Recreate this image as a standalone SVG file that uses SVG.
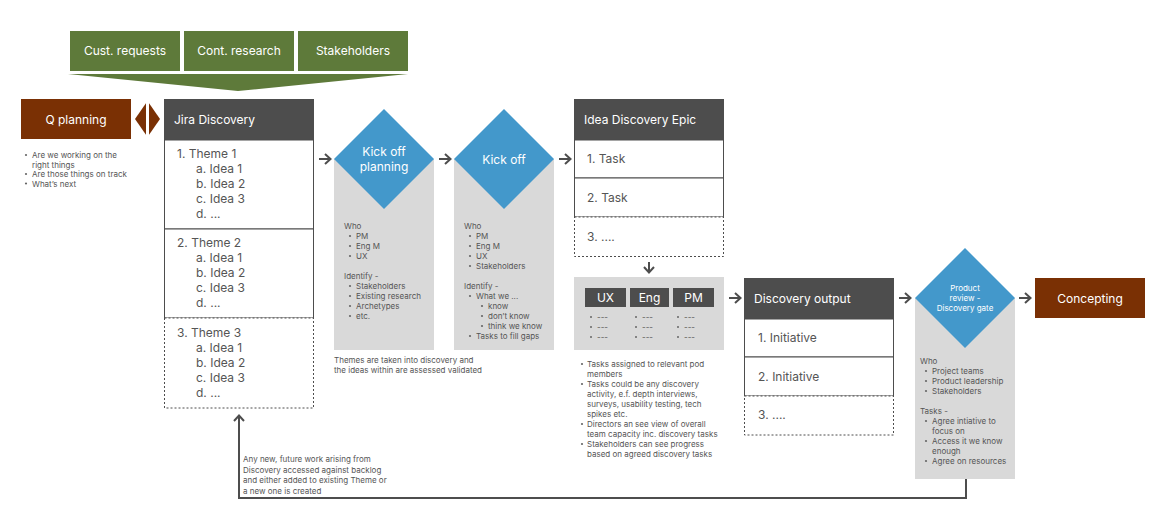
<svg xmlns="http://www.w3.org/2000/svg" width="1170" height="526" viewBox="0 0 1170 526">
<defs>
<style>
text{font-family:Inter,"Noto Sans","Liberation Sans",sans-serif}
.lbl{font-size:12px;fill:#fff}
.body{font-size:12px;fill:#555}
.sm{font-size:8px;fill:#555}
.smw{font-size:8px;fill:#fff}
.green{fill:#5e7a3a}
.brown{fill:#7a3004}
.dark{fill:#4d4d4d}
.blue{fill:#4398cb}
.panel{fill:#d9d9d9}
.box{fill:#fff;stroke:#4d4d4d;stroke-width:1}
.dot{fill:#fff;stroke:#4d4d4d;stroke-width:1;stroke-dasharray:2 2}
.conn{stroke:#4d4d4d;stroke-width:2;fill:none}
.bul{fill:#666}
</style>
<marker id="arr" markerUnits="userSpaceOnUse" markerWidth="12" markerHeight="14" refX="7" refY="6" orient="auto">
<path d="M1,1 L6.5,6 L1,11" fill="none" stroke="#4d4d4d" stroke-width="2"/>
</marker>
</defs>
<rect width="1170" height="526" fill="#fff"/>

<g id="inputs">
<rect class="green" x="70" y="31" width="110" height="40"/>
<text class="lbl" x="125" y="55" text-anchor="middle">Cust. requests</text>
<rect class="green" x="184" y="31" width="110" height="40"/>
<text class="lbl" x="239" y="55" text-anchor="middle">Cont. research</text>
<rect class="green" x="298" y="31" width="110" height="40"/>
<text class="lbl" x="353" y="55" text-anchor="middle">Stakeholders</text>
<polygon class="green" points="68,74 408,74 238,91"/>
</g>

<g id="q-planning">
<rect class="brown" x="21" y="99" width="110" height="40"/>
<text class="lbl" x="76" y="124" text-anchor="middle">Q planning</text>
<circle class="bul" cx="26" cy="155" r="1.1"/>
<text class="sm" x="32" y="158">Are we working on the</text>
<text class="sm" x="32" y="167.5">right things</text>
<circle class="bul" cx="26" cy="174" r="1.1"/>
<text class="sm" x="32" y="177">Are those things on track</text>
<circle class="bul" cx="26" cy="183.5" r="1.1"/>
<text class="sm" x="32" y="186.5">What’s next</text>
</g>

<g id="sync">
<polygon class="brown" points="135,119 147.5,101 160,119 147.5,137"/>
<line x1="147.5" y1="100" x2="147.5" y2="138" stroke="#fff" stroke-width="3"/>
</g>

<g id="jira-discovery">
<rect class="dark" x="164" y="99" width="150" height="41"/>
<text class="lbl" x="174" y="124">Jira Discovery</text>
<rect class="box" x="164.5" y="140" width="149" height="89"/>
<text class="body" x="177" y="158">1. Theme 1</text>
<text class="body" x="196" y="173">a. Idea 1</text>
<text class="body" x="196" y="188">b. Idea 2</text>
<text class="body" x="196" y="203">c. Idea 3</text>
<text class="body" x="196" y="218">d. ...</text>
<rect class="box" x="164.5" y="229" width="149" height="89"/>
<text class="body" x="177" y="247">2. Theme 2</text>
<text class="body" x="196" y="262">a. Idea 1</text>
<text class="body" x="196" y="277">b. Idea 2</text>
<text class="body" x="196" y="292">c. Idea 3</text>
<text class="body" x="196" y="307">d. ...</text>
<rect class="dot" x="164.5" y="318" width="149" height="90"/>
<text class="body" x="177" y="337">3. Theme 3</text>
<text class="body" x="196" y="352">a. Idea 1</text>
<text class="body" x="196" y="367">b. Idea 2</text>
<text class="body" x="196" y="382">c. Idea 3</text>
<text class="body" x="196" y="397">d. ...</text>
</g>

<g id="kickoff-planning">
<rect class="panel" x="334" y="159" width="100" height="191"/>
<polygon class="blue" points="334,159 384,109 434,159 384,209"/>
<text class="lbl" x="384" y="156" text-anchor="middle">Kick off</text>
<text class="lbl" x="384" y="171" text-anchor="middle">planning</text>
<text class="sm" x="344" y="229">Who</text>
<circle class="bul" cx="350" cy="236" r="1.1"/><text class="sm" x="356" y="239">PM</text>
<circle class="bul" cx="350" cy="246" r="1.1"/><text class="sm" x="356" y="249">Eng M</text>
<circle class="bul" cx="350" cy="256" r="1.1"/><text class="sm" x="356" y="259">UX</text>
<text class="sm" x="344" y="279">Identify -</text>
<circle class="bul" cx="350" cy="286" r="1.1"/><text class="sm" x="356" y="289">Stakeholders</text>
<circle class="bul" cx="350" cy="296" r="1.1"/><text class="sm" x="356" y="299">Existing research</text>
<circle class="bul" cx="350" cy="306" r="1.1"/><text class="sm" x="356" y="309">Archetypes</text>
<circle class="bul" cx="350" cy="316" r="1.1"/><text class="sm" x="356" y="319">etc.</text>
<text class="sm" x="334" y="363">Themes are taken into discovery and</text>
<text class="sm" x="334" y="373">the ideas within are assessed validated</text>
</g>

<g id="kickoff">
<rect class="panel" x="454" y="159" width="100" height="191"/>
<polygon class="blue" points="454,159 504,109 554,159 504,209"/>
<text class="lbl" x="504" y="163.5" text-anchor="middle">Kick off</text>
<text class="sm" x="464" y="229">Who</text>
<circle class="bul" cx="470" cy="236" r="1.1"/><text class="sm" x="476" y="239">PM</text>
<circle class="bul" cx="470" cy="246" r="1.1"/><text class="sm" x="476" y="249">Eng M</text>
<circle class="bul" cx="470" cy="256" r="1.1"/><text class="sm" x="476" y="259">UX</text>
<circle class="bul" cx="470" cy="266" r="1.1"/><text class="sm" x="476" y="269">Stakeholders</text>
<text class="sm" x="464" y="289">Identify -</text>
<circle class="bul" cx="470" cy="296" r="1.1"/><text class="sm" x="476" y="299">What we ...</text>
<circle class="bul" cx="482" cy="306" r="1.1"/><text class="sm" x="488" y="309">know</text>
<circle class="bul" cx="482" cy="316" r="1.1"/><text class="sm" x="488" y="319">don’t know</text>
<circle class="bul" cx="482" cy="326" r="1.1"/><text class="sm" x="488" y="329">think we know</text>
<circle class="bul" cx="470" cy="336" r="1.1"/><text class="sm" x="476" y="339">Tasks to fill gaps</text>
</g>

<g id="idea-discovery-epic">
<rect class="dark" x="574" y="99" width="150" height="41"/>
<text class="lbl" x="584" y="124">Idea Discovery Epic</text>
<rect class="box" x="574.5" y="140" width="149" height="38"/>
<text class="body" x="587" y="163">1. Task</text>
<rect class="box" x="574.5" y="178" width="149" height="39"/>
<text class="body" x="587" y="202">2. Task</text>
<rect class="dot" x="574.5" y="217" width="149" height="39.5"/>
<text class="body" x="587" y="241">3. ....</text>
</g>

<g id="pod-tasks">
<rect class="panel" x="574" y="277" width="150" height="73"/>
<rect class="dark" x="585" y="288" width="41" height="19"/>
<text class="lbl" x="605.5" y="302" text-anchor="middle">UX</text>
<rect class="dark" x="630" y="288" width="39" height="19"/>
<text class="lbl" x="649.5" y="302" text-anchor="middle">Eng</text>
<rect class="dark" x="673" y="288" width="41" height="19"/>
<text class="lbl" x="693.5" y="302" text-anchor="middle">PM</text>
<g class="sm">
<circle class="bul" cx="591" cy="317" r="1"/><text class="sm" x="597" y="320">---</text>
<circle class="bul" cx="591" cy="327" r="1"/><text class="sm" x="597" y="330">---</text>
<circle class="bul" cx="591" cy="337" r="1"/><text class="sm" x="597" y="340">---</text>
<circle class="bul" cx="636" cy="317" r="1"/><text class="sm" x="642" y="320">---</text>
<circle class="bul" cx="636" cy="327" r="1"/><text class="sm" x="642" y="330">---</text>
<circle class="bul" cx="636" cy="337" r="1"/><text class="sm" x="642" y="340">---</text>
<circle class="bul" cx="678" cy="317" r="1"/><text class="sm" x="684" y="320">---</text>
<circle class="bul" cx="678" cy="327" r="1"/><text class="sm" x="684" y="330">---</text>
<circle class="bul" cx="678" cy="337" r="1"/><text class="sm" x="684" y="340">---</text>
</g>
<circle class="bul" cx="582" cy="364" r="1.1"/><text class="sm" x="587" y="367">Tasks assigned to relevant pod</text>
<text class="sm" x="587" y="377">members</text>
<circle class="bul" cx="582" cy="384" r="1.1"/><text class="sm" x="587" y="387">Tasks could be any discovery</text>
<text class="sm" x="587" y="397">activity, e.f. depth interviews,</text>
<text class="sm" x="587" y="407">surveys, usability testing, tech</text>
<text class="sm" x="587" y="417">spikes etc.</text>
<circle class="bul" cx="582" cy="424" r="1.1"/><text class="sm" x="587" y="427">Directors an see view of overall</text>
<text class="sm" x="587" y="437">team capacity inc. discovery tasks</text>
<circle class="bul" cx="582" cy="444" r="1.1"/><text class="sm" x="587" y="447">Stakeholders can see progress</text>
<text class="sm" x="587" y="457">based on agreed discovery tasks</text>
</g>

<g id="discovery-output">
<rect class="dark" x="744" y="278" width="150" height="41"/>
<text class="lbl" x="754" y="303">Discovery output</text>
<rect class="box" x="744.5" y="319" width="149" height="38"/>
<text class="body" x="758" y="342">1. Initiative</text>
<rect class="box" x="744.5" y="357" width="149" height="39"/>
<text class="body" x="758" y="381">2. Initiative</text>
<rect class="dot" x="744.5" y="396" width="149" height="39"/>
<text class="body" x="758" y="419">3. ....</text>
</g>

<g id="product-review">
<rect class="panel" x="915" y="298" width="100" height="181"/>
<polygon class="blue" points="915,298 965,248 1015,298 965,348"/>
<text class="smw" x="965" y="291" text-anchor="middle">Product</text>
<text class="smw" x="965" y="301" text-anchor="middle">review -</text>
<text class="smw" x="965" y="311" text-anchor="middle">Discovery gate</text>
<text class="sm" x="920" y="364">Who</text>
<circle class="bul" cx="926" cy="371" r="1.1"/><text class="sm" x="932" y="374">Project teams</text>
<circle class="bul" cx="926" cy="381" r="1.1"/><text class="sm" x="932" y="384">Product leadership</text>
<circle class="bul" cx="926" cy="391" r="1.1"/><text class="sm" x="932" y="394">Stakeholders</text>
<text class="sm" x="920" y="414">Tasks -</text>
<circle class="bul" cx="926" cy="421" r="1.1"/><text class="sm" x="932" y="424">Agree intiative to</text>
<text class="sm" x="932" y="434">focus on</text>
<circle class="bul" cx="926" cy="441" r="1.1"/><text class="sm" x="932" y="444">Access it we know</text>
<text class="sm" x="932" y="454">enough</text>
<circle class="bul" cx="926" cy="461" r="1.1"/><text class="sm" x="932" y="464">Agree on resources</text>
</g>

<g id="concepting">
<rect class="brown" x="1035" y="278" width="110" height="40"/>
<text class="lbl" x="1090" y="303" text-anchor="middle">Concepting</text>
</g>

<g id="feedback-note">
<text class="sm" x="243" y="462">Any new, future work arising from</text>
<text class="sm" x="243" y="472.5">Discovery accessed against backlog</text>
<text class="sm" x="243" y="483">and either added to existing Theme or</text>
<text class="sm" x="243" y="493.5">a new one is created</text>
</g>

<g id="connectors">
<line class="conn" x1="319" y1="159" x2="331" y2="159" marker-end="url(#arr)"/>
<line class="conn" x1="439" y1="159" x2="451" y2="159" marker-end="url(#arr)"/>
<line class="conn" x1="559" y1="159" x2="571" y2="159" marker-end="url(#arr)"/>
<line class="conn" x1="649" y1="262" x2="649" y2="273" marker-end="url(#arr)"/>
<line class="conn" x1="729" y1="298" x2="741" y2="298" marker-end="url(#arr)"/>
<line class="conn" x1="899" y1="298" x2="911" y2="298" marker-end="url(#arr)"/>
<line class="conn" x1="1019" y1="298" x2="1031" y2="298" marker-end="url(#arr)"/>
<path class="conn" d="M966,479 V498 H239 V415" marker-end="url(#arr)"/>
</g>
</svg>
